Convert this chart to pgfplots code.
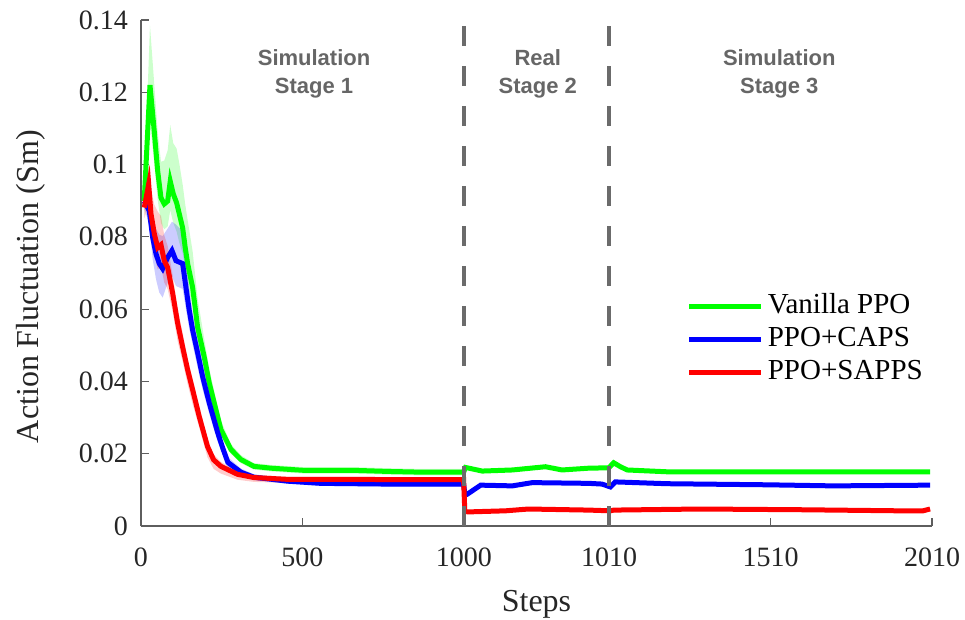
\documentclass[border=0pt]{standalone}
\usepackage{fontspec}
\setmainfont{Liberation Serif}
\newfontfamily\stagefont{Liberation Sans}
\usepackage{pgfplots}
\pgfplotsset{compat=1.18}
\definecolor{axgray}{HTML}{5E5E5E}
\definecolor{dashgray}{HTML}{6B6B6B}
\definecolor{stagegray}{HTML}{666666}
\definecolor{tickcol}{HTML}{262626}
\definecolor{cgreen}{RGB}{0,255,0}
\definecolor{cblue}{RGB}{0,0,255}
\definecolor{cred}{RGB}{255,0,0}
\begin{document}
\begin{tikzpicture}
\begin{axis}[
  scale only axis, width=791pt, height=506pt,
  xmin=0, xmax=2450, ymin=0, ymax=0.14,
  axis x line*=bottom, axis y line*=left,
  axis line style={axgray, line width=1.6pt, -},
  xtick={0,500,1000,1450,1950,2450},
  xticklabels={0,500,1000,1010,1510,2010},
  ytick={0,0.02,0.04,0.06,0.08,0.1,0.12,0.14},
  yticklabels={0,0.02,0.04,0.06,0.08,0.1,0.12,0.14},
  tick align=inside, major tick length=8pt,
  tick style={axgray, line width=1.2pt},
  ticklabel style={font=\fontsize{28}{30}\selectfont, text=tickcol},
  xticklabel style={anchor=base, inner sep=0pt, yshift=-40pt},
  yticklabel style={anchor=east, inner sep=0pt, xshift=-13pt},
  xlabel={Steps}, ylabel={Action Fluctuation (Sm)},
  label style={font=\fontsize{32}{34}\selectfont, text=tickcol},
  xlabel style={at={(axis description cs:0.5,-0.168)}, anchor=base},
  ylabel style={at={(axis description cs:-0.1302,0.473)}, anchor=base, rotate=0},
  legend style={draw=none, fill=none, at={(axis cs:1690,0.0515)}, anchor=west,
    inner sep=0pt, row sep=7pt, font=\fontsize{29}{32}\selectfont,
    nodes={inner sep=0pt, text height=20pt, text depth=6pt}},
  legend cell align=left,
  /tikz/every odd column/.append style={column sep=4pt},
  legend image code/.code={\draw[#1] (0pt,0pt) -- (72pt,0pt);},
]
% ---- shaded bands (upper forward, lower backward) ----
\addplot[draw=none, fill=cgreen, fill opacity=0.2, forget plot] coordinates {
(10,0.0939) (27.8,0.1385) (41.1,0.1222) (51.7,0.1092) (61.9,0.1008) (72.1,0.1011) (82.6,0.1039) (90.6,0.1109) (99.9,0.1059) (110.4,0.1044) (118.5,0.1004) (129.0,0.0945) (137.0,0.0890) (144.5,0.0846) (159.9,0.0760) (175.4,0.0630) (195.8,0.0518) (211.3,0.0436) (232.0,0.0352) (247.5,0.0292) (278.4,0.0227) (309.3,0.0196) (349.6,0.0174) (402.1,0.0169) (504.2,0.0163) (658.9,0.0163) (764.1,0.0160) (866.1,0.0158) (999.2,0.0158)
(999.2,0.0140) (866.1,0.0140) (764.1,0.0142) (658.9,0.0145) (504.2,0.0145) (402.1,0.0151) (349.6,0.0156) (309.3,0.0174) (278.4,0.0200) (247.5,0.0247) (232.0,0.0302) (211.3,0.0366) (195.8,0.0438) (175.4,0.0510) (159.9,0.0610) (144.5,0.0666) (137.0,0.0710) (129.0,0.0755) (118.5,0.0784) (110.4,0.0814) (99.9,0.0839) (90.6,0.0874) (82.6,0.0829) (72.1,0.0821) (61.9,0.0838) (51.7,0.0902) (41.1,0.1002) (27.8,0.1120) (10,0.0859)
};
\addplot[draw=none, fill=cblue, fill opacity=0.2, forget plot] coordinates {
(10.2,0.0919) (25.7,0.0932) (36.2,0.0868) (46.4,0.0823) (56.6,0.0806) (67.1,0.0802) (82.6,0.0823) (95.9,0.0842) (108.3,0.0834) (129.0,0.0816) (139.2,0.0740) (149.4,0.0657) (159.9,0.0592) (175.4,0.0519) (190.9,0.0453) (211.3,0.0371) (237.3,0.0284) (252.7,0.0237) (269.1,0.0191) (309.3,0.0159) (349.6,0.0143) (454.7,0.0131) (556.8,0.0125) (764.1,0.0123) (999.2,0.0123)
(999.2,0.0109) (764.1,0.0109) (556.8,0.0111) (454.7,0.0117) (349.6,0.0127) (309.3,0.0139) (269.1,0.0161) (252.7,0.0197) (237.3,0.0234) (211.3,0.0311) (190.9,0.0378) (175.4,0.0439) (159.9,0.0502) (149.4,0.0547) (139.2,0.0600) (129.0,0.0656) (108.3,0.0664) (95.9,0.0692) (82.6,0.0673) (67.1,0.0632) (56.6,0.0646) (46.4,0.0683) (36.2,0.0738) (25.7,0.0832) (10.2,0.0879)
};
\addplot[draw=none, fill=cred, fill opacity=0.2, forget plot] coordinates {
(10.2,0.0911) (23.8,0.0996) (30.9,0.0934) (41.1,0.0889) (51.7,0.0870) (61.9,0.0858) (72.1,0.0804) (82.6,0.0775) (98.1,0.0694) (113.5,0.0601) (129.0,0.0535) (144.5,0.0462) (159.9,0.0407) (180.3,0.0333) (206,0.0240) (225,0.0198) (247.5,0.0177) (299,0.0153) (350,0.0142) (455,0.0136) (659,0.0136) (850,0.0135) (999.2,0.0135)
(999.2,0.0118) (850,0.0118) (659,0.0119) (455,0.0119) (350,0.0122) (299,0.0128) (247.5,0.0145) (225,0.0158) (206,0.0190) (180.3,0.0273) (159.9,0.0337) (144.5,0.0392) (129.0,0.0455) (113.5,0.0511) (98.1,0.0594) (82.6,0.0655) (72.1,0.0674) (61.9,0.0718) (51.7,0.0710) (41.1,0.0749) (30.9,0.0814) (23.8,0.0886) (10.2,0.0851)
};
% ---- mean curves ----
\addplot[cgreen, line width=5pt] coordinates {
(10,0.0899) (27.8,0.1220) (41.1,0.1092) (51.7,0.0982) (61.9,0.0908) (72.1,0.0891) (82.6,0.0899) (90.6,0.0954) (99.9,0.0919) (110.4,0.0894) (118.5,0.0864) (129.0,0.0825) (137.0,0.0770) (144.5,0.0726) (159.9,0.0660) (175.4,0.0550) (195.8,0.0468) (211.3,0.0396) (232.0,0.0322) (247.5,0.0267) (278.4,0.0212) (309.3,0.0184) (349.6,0.0165) (402.1,0.0160) (504.2,0.0154) (658.9,0.0154) (764.1,0.0151) (866.1,0.0149) (999.2,0.0149)
(1005,0.0162) (1057,0.0152) (1150,0.0155) (1253,0.0164) (1304,0.0155) (1387,0.0160) (1449,0.0161) (1464,0.0175) (1485,0.0164) (1506,0.0155) (1629,0.0150) (1939,0.0150) (2248,0.0150) (2444,0.0150)
};
\addlegendentry{Vanilla PPO}
\addplot[cblue, line width=5pt] coordinates {
(10.2,0.0899) (25.7,0.0872) (36.2,0.0798) (46.4,0.0753) (56.6,0.0726) (67.1,0.0712) (82.6,0.0743) (95.9,0.0762) (108.3,0.0734) (129.0,0.0726) (139.2,0.0660) (149.4,0.0597) (159.9,0.0542) (175.4,0.0479) (190.9,0.0413) (211.3,0.0341) (237.3,0.0259) (252.7,0.0217) (269.1,0.0176) (309.3,0.0149) (349.6,0.0135) (454.7,0.0124) (556.8,0.0118) (764.1,0.0116) (999.2,0.0116)
(1003,0.0090) (1010.6,0.0088) (1052,0.0113) (1150,0.0111) (1212,0.0120) (1387,0.0118) (1428,0.0116) (1454,0.0108) (1469,0.0122) (1629,0.0117) (1939,0.0114) (2144,0.0111) (2444,0.0113)
};
\addlegendentry{PPO+CAPS}
\addplot[cred, line width=5pt] coordinates {
(10.2,0.0881) (23.8,0.0946) (30.9,0.0864) (41.1,0.0809) (51.7,0.0770) (61.9,0.0778) (72.1,0.0734) (82.6,0.0715) (98.1,0.0644) (113.5,0.0561) (129.0,0.0495) (144.5,0.0432) (159.9,0.0377) (180.3,0.0303) (206,0.0220) (225,0.0183) (247.5,0.0165) (299,0.0143) (350,0.0134) (455,0.0129) (659,0.0129) (850,0.0128) (999.2,0.0128)
(1003,0.0040) (1014.6,0.0039) (1129,0.0042) (1200,0.0047) (1387,0.0044) (1454,0.0042) (1464,0.0044) (1732,0.0047) (2042,0.0045) (2351,0.0042) (2422,0.0042) (2444,0.0047)
};
\addlegendentry{PPO+SAPPS}
% ---- stage separators ----
\addplot[dashgray, line width=4.5pt, dash pattern=on 20pt off 20pt, forget plot] coordinates {(1000,0) (1000,0.14)};
\addplot[dashgray, line width=4.5pt, dash pattern=on 20pt off 20pt, forget plot] coordinates {(1450,0) (1450,0.14)};
% ---- stage labels ----
\node[anchor=north, align=center, inner sep=0pt, text=stagegray, font=\stagefont\bfseries\fontsize{22}{28}\selectfont] at (axis cs:536,0.1318) {Simulation\\Stage 1};
\node[anchor=north, align=center, inner sep=0pt, text=stagegray, font=\stagefont\bfseries\fontsize{22}{28}\selectfont] at (axis cs:1229,0.1318) {Real\\Stage 2};
\node[anchor=north, align=center, inner sep=0pt, text=stagegray, font=\stagefont\bfseries\fontsize{22}{28}\selectfont] at (axis cs:1977,0.1318) {Simulation\\Stage 3};
\end{axis}
\pgfresetboundingbox
\path ([shift={(-141pt,-94pt)}]current axis.south west) rectangle ([shift={(33pt,20pt)}]current axis.north east);
\end{tikzpicture}
\end{document}
